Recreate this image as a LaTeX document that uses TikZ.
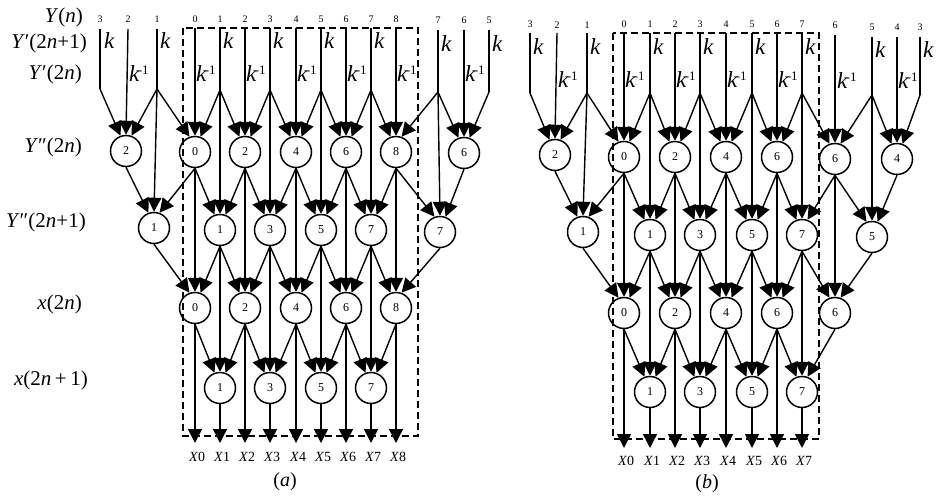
\documentclass[tikz,border=0pt]{standalone}
\usepackage{fontspec}
\setmainfont{Liberation Serif}
\usetikzlibrary{arrows.meta}
\newcommand\kinvtxt{k\kern-1.5pt\raisebox{7pt}{\upshape\fontsize{13}{13}\selectfont -1}}
\begin{document}
\begin{tikzpicture}[x=1pt,y=-1pt,
  wire/.style={line width=1.4pt},
  arr/.style={wire,-{Triangle[width=14pt,length=14pt]}},
  cnode/.style={circle,draw,line width=1.5pt,minimum size=31pt,inner sep=0pt,font=\fontsize{12}{12}\selectfont},
  idx/.style={font=\fontsize{10}{10}\selectfont,inner sep=0pt},
  klab/.style={font=\fontsize{23}{23}\selectfont\itshape,anchor=west,inner sep=0pt},
  rowlab/.style={font=\fontsize{21}{21}\selectfont,anchor=east,inner sep=0pt},
  xlab/.style={font=\fontsize{14}{14}\selectfont,inner sep=0pt},
  captxt/.style={font=\fontsize{20}{20}\selectfont,inner sep=0pt},
  dbox/.style={dash pattern=on 7pt off 4pt,line width=1.6pt}
]
\useasboundingbox (0,0) rectangle (938,501);

% ================= row labels =================
\node[rowlab] (r1) at (83,17) {\textit{Y}(\textit{n})};
\node[rowlab] (r2) at (87,43) {\textit{Y}′(2\textit{n}+1)};
\node[rowlab] (r3) at (82,74) {\textit{Y}′(2\textit{n})};
\node[rowlab] (r4) at (82,147) {\textit{Y}″(2\textit{n})};
\node[rowlab] (r5) at (86,222) {\textit{Y}″(2\textit{n}+1)};
\node[rowlab] (r6) at (82,304) {\textit{x}(2\textit{n})};
\node[rowlab] (r7) at (88,380) {\textit{x}(2\textit{n}\,+\,1)};

% ================= panel (a) =================
\foreach \i/\x in {0/195,1/220,2/245,3/270,4/296,5/321,6/346,7/371,8/396} {
  \coordinate (aT\i) at (\x,28);
  \coordinate (aO\i) at (\x,443);
  \node[idx] (aN\i) at (\x,19) {\i};
  \node[xlab] (aX\i) at (\x+2,457) {\textit{X}\i};
}
\foreach \i/\x in {0/195,2/245,4/296,6/346,8/396} {
  \node[cnode] (aB\i) at (\x,152) {\i};
  \node[cnode] (aD\i) at (\x,308) {\i};
  \node[klab] (aK\i) at (\x+1,74) {\kinvtxt};
}
\foreach \i/\x in {1/220,3/270,5/321,7/371} {
  \coordinate (aR\i) at (\x,90);
  \node[cnode] (aC\i) at (\x,230) {\i};
  \node[cnode] (aE\i) at (\x,388) {\i};
  \node[klab] (aK\i) at (\x+3,41) {k};
}
% left side
\coordinate (aTL3) at (100,29); \coordinate (aRL3) at (100,89);
\node[idx] (aNL3) at (100,19) {3}; \node[klab] (aKL3) at (104,41) {k};
\coordinate (aTL2) at (128,29);
\node[idx] (aNL2) at (128,19) {2}; \node[klab] (aKL2) at (129,74) {\kinvtxt};
\node[cnode] (aBL2) at (126,151) {2};
\coordinate (aTL1) at (157,29); \coordinate (aRL1) at (157,89);
\node[idx] (aNL1) at (157,19) {1}; \node[klab] (aKL1) at (160,41) {k};
\node[cnode] (aCL1) at (154,228) {1};
% right side
\coordinate (aTR7) at (438,30); \coordinate (aRR7) at (438,92);
\node[idx] (aNR7) at (438,20) {7}; \node[klab] (aKR7) at (441,44) {k};
\node[cnode] (aCR7) at (440,232) {7};
\coordinate (aTR6) at (464,30);
\node[idx] (aNR6) at (464,20) {6}; \node[klab] (aKR6) at (465,74) {\kinvtxt};
\node[cnode] (aBR6) at (464,153) {6};
\coordinate (aTR5) at (489,30); \coordinate (aRR5) at (489,92);
\node[idx] (aNR5) at (489,20) {5}; \node[klab] (aKR5) at (492,44) {k};

% inputs
\foreach \c in {0,2,4,6,8,L2,R6} \draw[arr] (aT\c) -- (aB\c.north);
\foreach \c in {1,3,5,7,L3,L1,R7,R5} \draw[wire] (aT\c) -- (aR\c);
\foreach \i in {1,3,5,7} {
  \pgfmathtruncatemacro\l{\i-1}\pgfmathtruncatemacro\r{\i+1}
  \draw[arr] (aR\i) -- (aB\l.70);
  \draw[arr] (aR\i) -- (aB\r.110);
  \draw[arr] (aR\i) -- (aC\i.north);
}
\draw[arr] (aRL3) -- (aBL2.110);
\draw[arr] (aRL1) -- (aBL2.70);
\draw[arr] (aRL1) -- (aB0.110);
\draw[arr] (aRL1) -- (aCL1.north);
\draw[arr] (aRR7) -- (aB8.70);
\draw[arr] (aRR7) -- (aBR6.110);
\draw[arr] (aRR7) -- (aCR7.north);
\draw[arr] (aRR5) -- (aBR6.70);
% B level
\foreach \i in {0,2,4,6,8} \draw[arr] (aB\i.south) -- (aD\i.north);
\foreach \i in {2,4,6,8} {\pgfmathtruncatemacro\l{\i-1}\draw[arr] (aB\i.south) -- (aC\l.70);}
\foreach \i in {0,2,4,6} {\pgfmathtruncatemacro\r{\i+1}\draw[arr] (aB\i.south) -- (aC\r.110);}
\draw[arr] (aBL2.south) -- (aCL1.110);
\draw[arr] (aB0.south) -- (aCL1.70);
\draw[arr] (aB8.south) -- (aCR7.110);
\draw[arr] (aBR6.south) -- (aCR7.70);
% C level
\foreach \i in {1,3,5,7} {
  \pgfmathtruncatemacro\l{\i-1}\pgfmathtruncatemacro\r{\i+1}
  \draw[arr] (aC\i.south) -- (aD\l.70);
  \draw[arr] (aC\i.south) -- (aD\r.110);
  \draw[arr] (aC\i.south) -- (aE\i.north);
}
\draw[arr] (aCL1.south) -- (aD0.110);
\draw[arr] (aCR7.south) -- (aD8.70);
% D level
\foreach \i in {0,2,4,6,8} \draw[arr] (aD\i.south) -- (aO\i);
\foreach \i in {2,4,6,8} {\pgfmathtruncatemacro\l{\i-1}\draw[arr] (aD\i.south) -- (aE\l.70);}
\foreach \i in {0,2,4,6} {\pgfmathtruncatemacro\r{\i+1}\draw[arr] (aD\i.south) -- (aE\r.110);}
\foreach \i in {1,3,5,7} \draw[arr] (aE\i.south) -- (aO\i);
% box and caption
\draw[dbox] (183,28) rectangle (418,436);
\node[captxt] (capa) at (285,482) {(\textit{a})};

% ================= panel (b) =================
\foreach \i/\x in {0/624,1/650,2/675,3/700,4/726,5/752,6/777,7/802} {
  \coordinate (bT\i) at (\x,33);
  \coordinate (bO\i) at (\x,448);
  \node[idx] (bN\i) at (\x,24) {\i};
  \node[xlab] (bX\i) at (\x+2,461) {\textit{X}\i};
}
\foreach \i/\x in {0/624,2/675,4/726,6/777} {
  \node[cnode] (bB\i) at (\x,157) {\i};
  \node[cnode] (bD\i) at (\x,313) {\i};
  \node[klab] (bK\i) at (\x+1,80) {\kinvtxt};
}
\foreach \i/\x in {1/650,3/700,5/752,7/802} {
  \coordinate (bR\i) at (\x,93);
  \node[cnode] (bC\i) at (\x,235) {\i};
  \node[cnode] (bE\i) at (\x,392) {\i};
  \node[klab] (bK\i) at (\x+3,47) {k};
}
% left side
\coordinate (bTL3) at (530,33); \coordinate (bRL3) at (530,93);
\node[idx] (bNL3) at (530,24) {3}; \node[klab] (bKL3) at (533,47) {k};
\coordinate (bTL2) at (557,33);
\node[idx] (bNL2) at (557,25) {2}; \node[klab] (bKL2) at (558,80) {\kinvtxt};
\node[cnode] (bBL2) at (555,155) {2};
\coordinate (bTL1) at (587,33); \coordinate (bRL1) at (587,93);
\node[idx] (bNL1) at (587,25) {1}; \node[klab] (bKL1) at (590,47) {k};
\node[cnode] (bCL1) at (583,232) {1};
% right side
\coordinate (bTR6) at (835,35);
\node[idx] (bNR6) at (835,25) {6}; \node[klab] (bKR6) at (837,81) {\kinvtxt};
\node[cnode] (bBR6) at (835,159) {6};
\node[cnode] (bDR6) at (835,313) {6};
\coordinate (bTR5) at (872,37); \coordinate (bRR5) at (872,95);
\node[idx] (bNR5) at (872,27) {5}; \node[klab] (bKR5) at (875,50) {k};
\node[cnode] (bCR5) at (872,237) {5};
\coordinate (bTR4) at (897,37);
\node[idx] (bNR4) at (897,27) {4}; \node[klab] (bKR4) at (898,81) {\kinvtxt};
\node[cnode] (bBR4) at (897,159) {4};
\coordinate (bTR3) at (920,37); \coordinate (bRR3) at (920,95);
\node[idx] (bNR3) at (920,27) {3}; \node[klab] (bKR3) at (923,50) {k};

% inputs
\foreach \c in {0,2,4,6,L2,R6,R4} \draw[arr] (bT\c) -- (bB\c.north);
\foreach \c in {1,3,5,7,L3,L1,R5,R3} \draw[wire] (bT\c) -- (bR\c);
\foreach \i in {1,3,5} {
  \pgfmathtruncatemacro\l{\i-1}\pgfmathtruncatemacro\r{\i+1}
  \draw[arr] (bR\i) -- (bB\l.70);
  \draw[arr] (bR\i) -- (bB\r.110);
  \draw[arr] (bR\i) -- (bC\i.north);
}
\draw[arr] (bR7) -- (bB6.70);
\draw[arr] (bR7) -- (bBR6.110);
\draw[arr] (bR7) -- (bC7.north);
\draw[arr] (bRL3) -- (bBL2.110);
\draw[arr] (bRL1) -- (bBL2.70);
\draw[arr] (bRL1) -- (bB0.110);
\draw[arr] (bRL1) -- (bCL1.north);
\draw[arr] (bRR5) -- (bBR6.70);
\draw[arr] (bRR5) -- (bBR4.110);
\draw[arr] (bRR5) -- (bCR5.north);
\draw[arr] (bRR3) -- (bBR4.70);
% B level
\foreach \i in {0,2,4,6} \draw[arr] (bB\i.south) -- (bD\i.north);
\foreach \i in {2,4,6} {\pgfmathtruncatemacro\l{\i-1}\draw[arr] (bB\i.south) -- (bC\l.70);}
\foreach \i in {0,2,4,6} {\pgfmathtruncatemacro\r{\i+1}\draw[arr] (bB\i.south) -- (bC\r.110);}
\draw[arr] (bBL2.south) -- (bCL1.110);
\draw[arr] (bB0.south) -- (bCL1.70);
\draw[arr] (bBR6.south) -- (bC7.70);
\draw[arr] (bBR6.south) -- (bCR5.110);
\draw[arr] (bBR6.south) -- (bDR6.north);
\draw[arr] (bBR4.south) -- (bCR5.70);
% C level
\foreach \i in {1,3,5,7} {
  \pgfmathtruncatemacro\l{\i-1}
  \draw[arr] (bC\i.south) -- (bD\l.70);
  \draw[arr] (bC\i.south) -- (bE\i.north);
}
\foreach \i in {1,3,5} {\pgfmathtruncatemacro\r{\i+1}\draw[arr] (bC\i.south) -- (bD\r.110);}
\draw[arr] (bC7.south) -- (bDR6.110);
\draw[arr] (bCL1.south) -- (bD0.110);
\draw[arr] (bCR5.south) -- (bDR6.70);
% D level
\foreach \i in {0,2,4,6} \draw[arr] (bD\i.south) -- (bO\i);
\foreach \i in {2,4,6} {\pgfmathtruncatemacro\l{\i-1}\draw[arr] (bD\i.south) -- (bE\l.70);}
\foreach \i in {0,2,4,6} {\pgfmathtruncatemacro\r{\i+1}\draw[arr] (bD\i.south) -- (bE\r.110);}
\draw[arr] (bDR6.south) -- (bE7.70);
\foreach \i in {1,3,5,7} \draw[arr] (bE\i.south) -- (bO\i);
% box and caption
\draw[dbox] (613,33) rectangle (819,439);
\node[captxt] (capb) at (707,484) {(\textit{b})};
\end{tikzpicture}
\end{document}
